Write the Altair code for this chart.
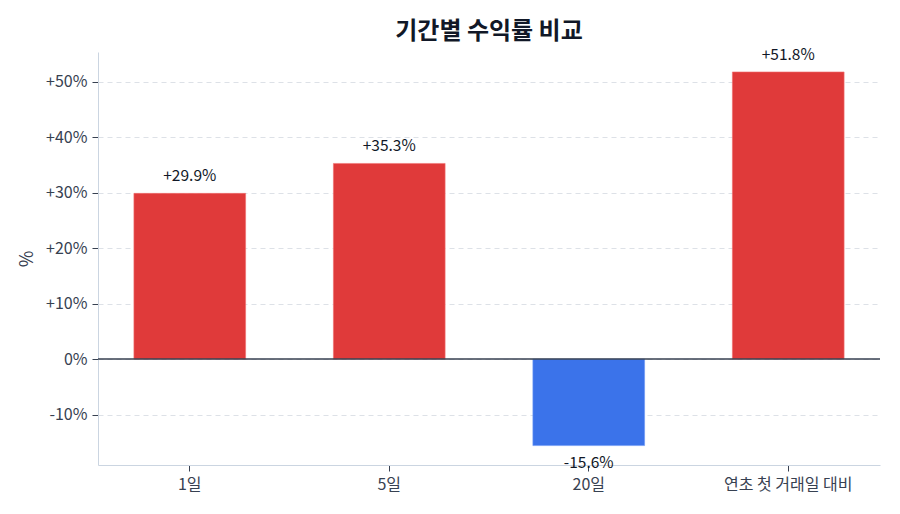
import altair as alt
import pandas as pd

categories = ["1일", "5일", "20일", "연초 첫 거래일 대비"]
returns = [29.9, 35.3, -15.6, 51.8]
labels = ["+29.9%", "+35.3%", "-15.6%", "+51.8%"]

df = pd.DataFrame({"cat": categories, "ret": returns, "label": labels})
df["sign"] = ["pos" if v >= 0 else "neg" for v in df["ret"]]

FONT = "Noto Sans CJK KR"
ydom = [-19.1, 55.4]

x = alt.X("cat:N", sort=categories, title=None,
          scale=alt.Scale(paddingInner=0.44, paddingOuter=0.18),
          axis=alt.Axis(labelAngle=0, labelFontSize=16, labelColor="#374151",
                        labelFont=FONT, domainColor="#cbd5e1", tickColor="#374151",
                        tickSize=6, labelPadding=5, grid=False))
y = alt.Y("ret:Q", title="%", scale=alt.Scale(domain=ydom, nice=False, zero=False),
          axis=alt.Axis(values=[-10, 0, 10, 20, 30, 40, 50],
                        labelExpr="datum.value > 0 ? '+' + datum.value + '%' : datum.value + '%'",
                        labelFontSize=16, labelColor="#374151", labelFont=FONT,
                        titleFont=FONT, titleFontSize=18, titleColor="#374151",
                        titleFontWeight="normal", titlePadding=9,
                        domainColor="#cbd5e1", tickColor="#374151", tickSize=6,
                        labelPadding=5,
                        gridColor="#dde1e7", gridDash=[5, 4], gridWidth=1))

base = alt.Chart(df)

bars = base.mark_bar(strokeWidth=1, strokeOpacity=0.6).encode(
    x=x, y=y, y2=alt.datum(0),
    color=alt.Color("sign:N", scale=alt.Scale(domain=["pos", "neg"], range=["#e03a3a", "#3b73ea"]), legend=None),
    stroke=alt.Color("sign:N", scale=alt.Scale(domain=["pos", "neg"], range=["#f07070", "#6a98f5"]), legend=None),
)

zero = alt.Chart(pd.DataFrame({"z": [0]})).mark_rule(color="#374151", strokeWidth=1.5).encode(
    y=alt.Y("z:Q", scale=alt.Scale(domain=ydom, nice=False, zero=False)))

pos_text = base.transform_filter("datum.ret >= 0").mark_text(
    dy=-17, fontSize=15.5, font=FONT, color="#111827").encode(
    x=alt.X("cat:N", sort=categories), y=alt.Y("ret:Q"), text="label:N")
neg_text = base.transform_filter("datum.ret < 0").mark_text(
    dy=17, fontSize=15.5, font=FONT, color="#111827").encode(
    x=alt.X("cat:N", sort=categories), y=alt.Y("ret:Q"), text="label:N")

chart = alt.layer(bars, zero, pos_text, neg_text).properties(
    width=782, height=413,
    title=alt.TitleParams("기간별 수익률 비교", font=FONT, fontSize=24, fontWeight="bold",
                          color="#111827", offset=4),
    autosize=alt.AutoSizeParams(type="none"),
    padding={"left": 98, "top": 52, "right": 20, "bottom": 49},
).configure(background="white", view=alt.ViewConfig(stroke=None, strokeWidth=0))

chart.save("out.html", embed_options={"renderer": "svg", "actions": False})
